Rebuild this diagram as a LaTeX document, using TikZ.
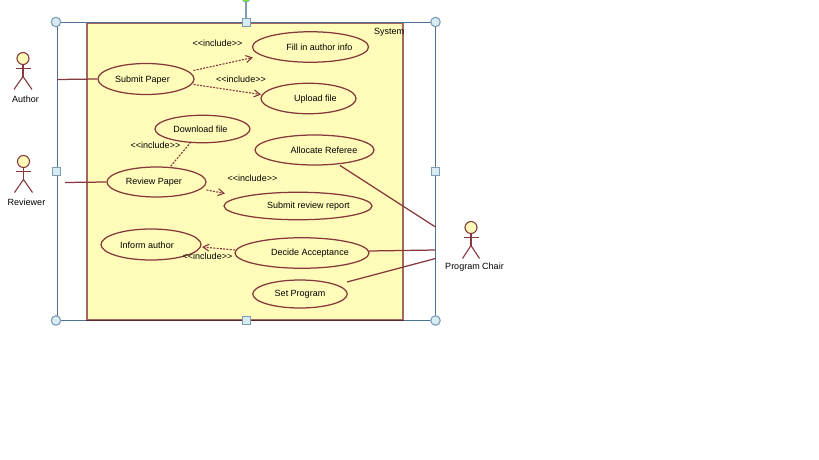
\documentclass[tikz,border=0pt]{standalone}
\usepackage{fontspec}
\setmainfont{Liberation Sans}
\usetikzlibrary{shapes.geometric,arrows.meta}
\definecolor{brownline}{HTML}{85393C}
\definecolor{sysedge}{HTML}{A0685F}
\definecolor{sysfill}{HTML}{FFFCBA}
\definecolor{frameblue}{HTML}{4F7196}
\definecolor{handlefill}{HTML}{D6ECF2}
\definecolor{handleedge}{HTML}{7E9DB5}
\tikzset{
  uc/.style={draw=brownline,line width=1.25pt,fill=sysfill,ellipse,inner sep=0pt},
  lbl/.style={inner sep=0pt,font=\fontsize{9}{10}\selectfont,text=black},
  assoc/.style={draw=brownline,line width=1.25pt},
  incl/.style={draw=brownline,line width=1.1pt,dash pattern=on 2pt off 1.3pt},
  inclarrow/.style={incl,-{Straight Barb[length=6pt,width=7pt,line width=1.1pt]}},
  limb/.style={draw=brownline,line width=1.1pt},
  head/.style={draw=brownline,line width=1.1pt,fill=sysfill,circle,inner sep=0pt,minimum size=12pt},
  roundh/.style={draw=handleedge,line width=1.1pt,fill=handlefill,circle,inner sep=0pt,minimum size=9.5pt},
  squareh/.style={draw=handleedge,line width=0.8pt,fill=handlefill,rectangle,inner sep=0pt,minimum size=8pt},
}
% name, head x, head y, arm half-width, leg spread
\newcommand{\stickman}[5]{%
  \node[head] (#1) at (#2,#3) {};
  \coordinate (#1w) at (#2,#3+18);
  \coordinate (#1al) at (#2-#4,#3+10);
  \coordinate (#1ar) at (#2+#4,#3+10);
  \coordinate (#1ll) at (#2-#5,#3+31);
  \coordinate (#1lr) at (#2+#5,#3+31);
  \draw[limb] (#1.south) -- (#1w);
  \draw[limb] (#1al) -- (#1ar);
  \draw[limb] (#1ll) -- (#1w) -- (#1lr);
}
\begin{document}
\begin{tikzpicture}[x=1pt,y=-1pt]
\useasboundingbox (0,0) rectangle (819,460);
% selection frame
\coordinate (ftl) at (57,22.5);
\coordinate (fbr) at (435.5,320.5);
\draw[frameblue,line width=1pt] (ftl) rectangle (fbr);
% system
\node[draw=sysedge,line width=1.5pt,fill=sysfill,rectangle,inner sep=0pt,minimum width=316pt,minimum height=297pt] (sys) at (245,171.5) {};
\draw[brownline!70!black,line width=1.2pt] (sys.south west) -- (sys.south east);
\draw[frameblue,line width=1pt] (sys.north west) -- (sys.north east);
\node[lbl] (systext) at (389,32) {System};
% handles
\node[roundh] (h1) at (56,22) {};
\node[roundh] (h2) at (435.5,22) {};
\node[roundh] (h3) at (56,320.5) {};
\node[roundh] (h4) at (435.5,320.5) {};
\node[draw=handleedge,line width=0.8pt,fill=green!60!yellow,circle,inner sep=0pt,minimum size=8pt] (rot) at (246,-2) {};
\node[squareh] (s1) at (246,22.5) {};
\draw[handleedge,line width=1.4pt] (rot) -- (s1);
\node[squareh] (s2) at (56,171.5) {};
\node[squareh] (s3) at (435.5,171.5) {};
\node[squareh] (s4) at (246,320.5) {};
% use cases
\node[uc,minimum width=96pt,minimum height=31pt] (submit) at (146,79) {};
\node[uc,minimum width=116pt,minimum height=30.5pt] (fill) at (310.5,47) {};
\node[uc,minimum width=95pt,minimum height=30.5pt] (upload) at (308.5,98.5) {};
\node[uc,minimum width=95pt,minimum height=27.5pt] (download) at (202.5,129) {};
\node[uc,minimum width=119pt,minimum height=30pt] (allocate) at (314.5,150) {};
\node[uc,minimum width=99pt,minimum height=30pt] (review) at (156.5,182) {};
\node[uc,minimum width=148pt,minimum height=27.5pt] (report) at (298,206) {};
\node[uc,minimum width=100pt,minimum height=31pt] (inform) at (151,244.5) {};
\node[uc,minimum width=134pt,minimum height=30.5pt] (decide) at (302,253) {};
\node[uc,minimum width=94.5pt,minimum height=28pt] (setprog) at (300,294) {};
\node[lbl] (t1) at (142.5,80) {Submit Paper};
\node[lbl] (t2) at (319.5,47.5) {Fill in author info};
\node[lbl] (t3) at (315.5,99.5) {Upload file};
\node[lbl] (t4) at (200.5,129.5) {Download file};
\node[lbl] (t5) at (324,150) {Allocate Referee};
\node[lbl] (t6) at (154,182.5) {Review Paper};
\node[lbl] (t7) at (308.5,206) {Submit review report};
\node[lbl] (t8) at (147,245.5) {Inform author};
\node[lbl] (t9) at (310,253.5) {Decide Acceptance};
\node[lbl] (t10) at (300,294.5) {Set Program};
% include labels
\node[lbl] (i1) at (217.5,43) {<{}<include>{}>};
\node[lbl] (i2) at (241,79.5) {<{}<include>{}>};
\node[lbl] (i3) at (155.5,145.5) {<{}<include>{}>};
\node[lbl] (i4) at (252.5,178.5) {<{}<include>{}>};
\node[lbl] (i5) at (207.5,256.5) {<{}<include>{}>};
% actors
\stickman{author}{23}{58.5}{7.5}{9}
\stickman{reviewer}{23.5}{161.5}{7.5}{9}
\stickman{chair}{471}{227.5}{7.5}{8.5}
\node[lbl] (ta) at (25.5,99.5) {Author};
\node[lbl] (tr) at (26.5,202) {Reviewer};
\node[lbl] (tc) at (474.5,267) {Program Chair};
% connectors
\coordinate (pa) at (57.5,79.5);
\coordinate (pr) at (65,182.5);
\coordinate (pc1) at (435.5,227);
\coordinate (pc2) at (435.5,250);
\coordinate (pc3) at (435.5,258.5);
\coordinate (a1) at (340,165.5);
\coordinate (d1) at (369,251);
\coordinate (sp1) at (347,282);
\draw[assoc] (pa) -- (submit.west);
\draw[assoc] (pr) -- (review.west);
\draw[assoc] (a1) -- (pc1);
\draw[assoc] (d1) -- (pc2);
\draw[assoc] (sp1) -- (pc3);
\coordinate (sa) at (193.5,70.5);
\coordinate (fa) at (253,57.5);
\draw[inclarrow] (sa) -- (fa);
\coordinate (sb) at (193.5,84.5);
\coordinate (ub) at (261,94.5);
\draw[inclarrow] (sb) -- (ub);
\coordinate (db) at (191,142);
\coordinate (rb) at (170,167);
\draw[incl] (db) -- (rb);
\coordinate (rc) at (206.5,190);
\coordinate (rd) at (225,193.5);
\draw[inclarrow] (rc) -- (rd);
\coordinate (dc) at (235,250);
\coordinate (ic) at (202,247);
\draw[inclarrow] (dc) -- (ic);
\end{tikzpicture}
\end{document}
